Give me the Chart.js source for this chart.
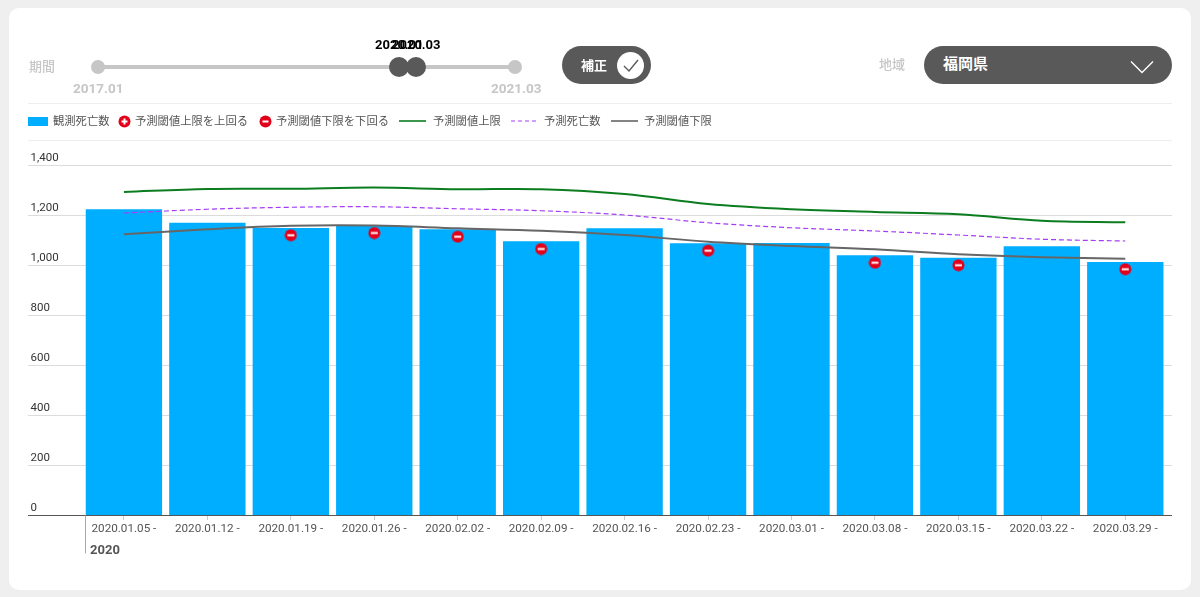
<!DOCTYPE html>
<html lang="ja">
<head>
<meta charset="utf-8">
<title>観測死亡数</title>
<script src="https://cdn.jsdelivr.net/npm/chart.js@4"></script>
<style>
  html, body { margin: 0; padding: 0; background: #efefef; overflow: hidden; }
  body { width: 1200px; height: 597px; position: relative; font-family: Roboto, "Noto Sans CJK JP", sans-serif; }
  .card { position: absolute; left: 9px; top: 8px; width: 1182px; height: 582px; background: #fff; border-radius: 10px; }
  canvas#chart { position: absolute; left: 0; top: 0; }
  .abs { position: absolute; white-space: nowrap; }
  .rule { position: absolute; left: 28px; width: 1144px; height: 1px; background: #eeeeee; }
  .muted { color: #c6c6c6; font-weight: 700; }
  .dot { position: absolute; border-radius: 50%; }
  .lg { position: absolute; top: 115px; font-size: 11.3px; line-height: 14px; color: #555; white-space: nowrap; }
  .pill { position: absolute; top: 46px; height: 38px; border-radius: 19px; background: #595959; box-sizing: border-box; }
</style>
</head>
<body>
<div class="card"></div>
<canvas id="chart" width="1200" height="597"></canvas>

<!-- header controls -->
<div class="abs muted" style="left:29px;top:56px;font-size:13px;font-weight:500;">期間</div>
<div class="abs" style="left:98px;top:65px;width:417px;height:4px;background:#c6c6c6;"></div>
<div class="dot" style="left:91px;top:60px;width:14px;height:14px;background:#c6c6c6;"></div>
<div class="dot" style="left:508px;top:60px;width:14px;height:14px;background:#c6c6c6;"></div>
<div class="dot" style="left:389px;top:57px;width:20px;height:20px;background:#595959;"></div>
<div class="dot" style="left:406px;top:57px;width:20px;height:20px;background:#595959;"></div>
<div class="abs" style="left:375px;top:37px;font-size:13px;font-weight:700;color:#000;">2020.01</div>
<div class="abs" style="left:392px;top:37px;font-size:13px;font-weight:700;color:#000;">2020.03</div>
<div class="abs muted" style="left:73px;top:80px;font-size:13.5px;">2017.01</div>
<div class="abs muted" style="left:491px;top:80px;font-size:13.5px;">2021.03</div>

<div class="pill" style="left:562px;width:89px;"></div>
<div class="abs" style="left:581px;top:55px;font-size:13px;font-weight:700;color:#fff;">補正</div>
<div class="dot" style="left:617px;top:52px;width:27px;height:27px;background:#fff;"></div>
<svg class="abs" style="left:617px;top:52px;" width="27" height="27"><path d="M7 14 L12 19 L21 8" fill="none" stroke="#595959" stroke-width="1.4"/></svg>

<div class="abs muted" style="left:879px;top:54px;font-size:13px;font-weight:500;">地域</div>
<div class="pill" style="left:924px;width:248px;"></div>
<div class="abs" style="left:943px;top:52px;font-size:15px;font-weight:700;color:#fff;">福岡県</div>
<svg class="abs" style="left:1130px;top:60px;" width="24" height="14"><path d="M1 1.5 L12 12.5 L23 1.5" fill="none" stroke="#fff" stroke-width="1.4"/></svg>

<div class="rule" style="top:103px;"></div>
<div class="rule" style="top:140px;"></div>

<!-- legend -->
<div class="abs" style="left:28px;top:117px;width:20px;height:9px;background:#00aeff;"></div>
<div class="lg" style="left:53px;">観測死亡数</div>
<svg class="abs" style="left:118px;top:115px;" width="13" height="13"><circle cx="6.5" cy="6.5" r="6" fill="#e3001b"/><path d="M3.5 6.5H9.5M6.5 3.5V9.5" stroke="#fff" stroke-width="2"/></svg>
<div class="lg" style="left:135px;">予測閾値上限を上回る</div>
<svg class="abs" style="left:259px;top:115px;" width="13" height="13"><circle cx="6.5" cy="6.5" r="6" fill="#e3001b"/><path d="M3.5 6.5H9.5" stroke="#fff" stroke-width="2"/></svg>
<div class="lg" style="left:276px;">予測閾値下限を下回る</div>
<svg class="abs" style="left:399px;top:119px;" width="27" height="4"><path d="M0 2H27" stroke="#0b7d1f" stroke-width="1.6"/></svg>
<div class="lg" style="left:433px;">予測閾値上限</div>
<svg class="abs" style="left:511px;top:119px;" width="27" height="4"><path d="M0 2H27" stroke="#a63cf5" stroke-width="1" stroke-dasharray="4 3"/></svg>
<div class="lg" style="left:544px;">予測死亡数</div>
<svg class="abs" style="left:611px;top:119px;" width="27" height="4"><path d="M0 2H27" stroke="#666" stroke-width="1.6"/></svg>
<div class="lg" style="left:644px;">予測閾値下限</div>

<script>
// ---- chart data ----
const weeks = ['2020.01.05 -', '2020.01.12 -', '2020.01.19 -', '2020.01.26 -', '2020.02.02 -', '2020.02.09 -', '2020.02.16 -',
               '2020.02.23 -', '2020.03.01 -', '2020.03.08 -', '2020.03.15 -', '2020.03.22 -', '2020.03.29 -'];
const observed   = [1223, 1169, 1148, 1156, 1143, 1095, 1147, 1087, 1088, 1039, 1029, 1075, 1012];
const upperLimit = [1292, 1304, 1305, 1310, 1303, 1303, 1284, 1244, 1223, 1212, 1203, 1177, 1171];
const predicted  = [1208, 1223, 1231, 1233, 1225, 1217, 1200, 1169, 1149, 1136, 1120, 1103, 1096];
const lowerLimit = [1123, 1143, 1157, 1158, 1147, 1137, 1120, 1093, 1076, 1063, 1043, 1031, 1025];
const aboveMarks = [null, null, null, null, null, null, null, null, null, null, null, null, null];
const belowMarks = [null, null, 1119, 1128, 1113, 1064, null, 1057, null, 1009, 999, null, 983];
const yearLabel = '2020';

// ---- red round markers ----
function makeMarker(plus) {
  const c = document.createElement('canvas');
  c.width = 13; c.height = 13;
  const g = c.getContext('2d');
  g.fillStyle = '#e3001b';
  g.beginPath(); g.arc(6.5, 6.5, 6, 0, Math.PI * 2); g.fill();
  g.strokeStyle = '#fff'; g.lineWidth = 2;
  g.beginPath(); g.moveTo(3, 6.5); g.lineTo(10, 6.5);
  if (plus) { g.moveTo(6.5, 3); g.lineTo(6.5, 10); }
  g.stroke();
  return c;
}

// ---- gridlines, y labels and the long baseline run past the plot area ----
const frame = {
  id: 'frame',
  beforeDatasetsDraw(chart) {
    const { ctx, scales: { y } } = chart;
    ctx.save();
    ctx.strokeStyle = '#dcdcdc'; ctx.lineWidth = 1;
    y.ticks.forEach(t => {
      if (t.value === 0) return;
      const py = Math.round(y.getPixelForValue(t.value)) + 0.5;
      ctx.beginPath(); ctx.moveTo(28, py); ctx.lineTo(1172, py); ctx.stroke();
    });
    ctx.restore();
  },
  afterDatasetsDraw(chart) {
    const { ctx, scales: { y } } = chart;
    ctx.save();
    ctx.strokeStyle = '#555'; ctx.lineWidth = 1;
    const base = Math.round(y.getPixelForValue(0)) + 0.5;
    ctx.beginPath(); ctx.moveTo(28, base); ctx.lineTo(1172, base); ctx.stroke();
    ctx.font = '11.5px Roboto'; ctx.fillStyle = '#333'; ctx.textAlign = 'left'; ctx.textBaseline = 'alphabetic';
    y.ticks.forEach(t => ctx.fillText(t.value.toLocaleString('en-US'), 30.5, y.getPixelForValue(t.value) - 4));
    // year divider under the first week
    ctx.strokeStyle = '#aaa';
    ctx.beginPath(); ctx.moveTo(85.5, base); ctx.lineTo(85.5, base + 38); ctx.stroke();
    ctx.font = 'bold 13px Roboto'; ctx.fillStyle = '#555';
    ctx.fillText(yearLabel, 90, base + 38);
    ctx.restore();
  }
};

new Chart(document.getElementById('chart'), {
  type: 'bar',
  data: {
    labels: weeks,
    datasets: [
      { type: 'bar', label: '観測死亡数', data: observed, backgroundColor: '#00aeff', barPercentage: 0.915, categoryPercentage: 1, order: 5 },
      { type: 'line', label: '予測閾値上限', data: upperLimit, borderColor: '#0b7d1f', borderWidth: 2, pointRadius: 0, tension: 0.35, order: 4 },
      { type: 'line', label: '予測死亡数', data: predicted, borderColor: '#a63cf5', borderWidth: 1.2, borderDash: [5, 3], pointRadius: 0, tension: 0.35, order: 3 },
      { type: 'line', label: '予測閾値下限', data: lowerLimit, borderColor: '#666666', borderWidth: 2, pointRadius: 0, tension: 0.35, order: 2 },
      { type: 'line', label: '予測閾値上限を上回る', data: aboveMarks, showLine: false, pointStyle: makeMarker(true), order: 1 },
      { type: 'line', label: '予測閾値下限を下回る', data: belowMarks, showLine: false, pointStyle: makeMarker(false), order: 1 }
    ]
  },
  plugins: [frame],
  options: {
    responsive: false,
    animation: false,
    layout: { padding: { left: 82.2, right: 33, top: 165, bottom: 0 } },
    plugins: { legend: { display: false }, tooltip: { enabled: false } },
    scales: {
      x: {
        afterFit(scale) { scale.height = 82; },
        border: { display: false },
        grid: { offset: false, drawOnChartArea: false, drawTicks: true, tickLength: 5, tickColor: '#cccccc' },
        ticks: { color: '#555', font: { family: 'Roboto', size: 11.7 }, autoSkip: false, maxRotation: 0, padding: 2 }
      },
      y: {
        min: 0,
        max: 1400,
        border: { display: false },
        grid: { display: false, drawTicks: false },
        ticks: { display: false, stepSize: 200 }
      }
    }
  }
});
</script>
</body>
</html>
